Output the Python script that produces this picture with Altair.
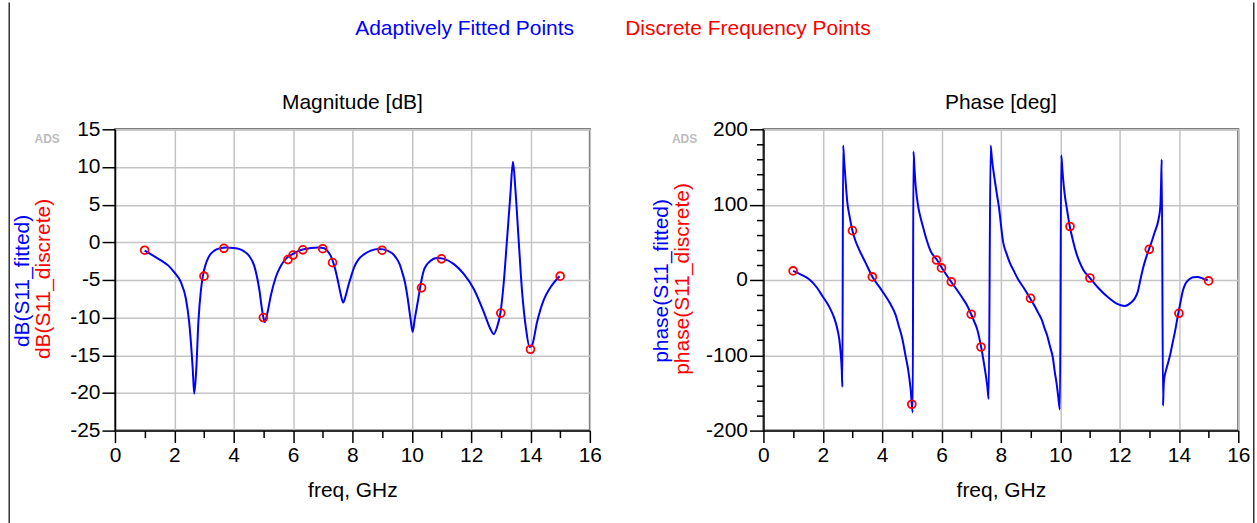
import altair as alt
import pandas as pd

BLUE = "#0000ff"
RED = "#ff0000"
FONT = "Liberation Sans"
FS = 21

# ---------------- discrete frequency points ----------------
disc_freq = [1.0, 3.0, 3.67, 5.0, 5.83, 6.0, 6.33, 7.0, 7.33, 9.0, 10.33, 11.0, 13.0, 14.0, 15.0]
disc_mag = [-1.05, -4.5, -0.8, -10.0, -2.3, -1.7, -1.0, -0.85, -2.7, -1.05, -6.05, -2.2, -9.4, -14.2, -4.5]
disc_phase = [12, 65.5, 4, -165, 26.5, 16, -2.5, -45.5, -89, -24.4, 71, 2.6, 40.7, -44.3, -1.3]

# ---------------- adaptively fitted curve: magnitude ----------------
fit_mag_freq = [1.0, 1.3, 1.55, 1.8, 2.0, 2.22, 2.39, 2.5, 2.62, 2.67, 2.74, 2.81, 2.9, 2.97, 3.05,
                3.15, 3.35, 3.55, 3.75, 4.0, 4.2, 4.35, 4.52, 4.69, 4.86, 4.97, 5.05, 5.14, 5.25,
                5.42, 5.59, 5.81, 6.0, 6.15, 6.4, 6.6, 6.85, 7.05, 7.17, 7.27, 7.38, 7.5, 7.6, 7.69,
                7.78, 7.86, 7.95, 8.06, 8.2, 8.39, 8.62, 8.9, 9.18, 9.35, 9.46, 9.58, 9.68, 9.78,
                9.85, 9.96, 10.03, 10.1, 10.22, 10.3, 10.4, 10.5, 10.58, 10.86, 11.08, 11.42, 11.75,
                12.09, 12.43, 12.65, 12.76, 12.87, 12.99, 13.1, 13.21, 13.32, 13.41, 13.49, 13.6,
                13.71, 13.85, 13.97, 14.05, 14.22, 14.44, 14.67, 14.98]
fit_mag_val = [-1.1, -1.8, -2.4, -3.1, -4.0, -5.3, -7.5, -10.6, -16.8, -20.1, -16.8, -10.6, -6.2, -4.3, -3.0,
               -2.0, -1.1, -0.8, -0.7, -0.75, -0.9, -1.2, -1.8, -3.1, -6.2, -9.3, -10.6, -9.3, -7.1,
               -4.6, -3.1, -2.0, -1.55, -1.2, -0.9, -0.75, -0.7, -0.8, -1.2, -1.8, -3.0, -4.9, -6.8, -8.0,
               -7.0, -5.8, -4.6, -3.3, -2.3, -1.6, -1.1, -0.9, -1.1, -1.5, -2.0, -2.8, -4.0, -5.5,
               -7.1, -10.2, -11.9, -10.2, -7.5, -5.6, -3.8, -3.0, -2.65, -2.1, -2.2, -2.9, -4.2,
               -6.2, -9.3, -11.5, -12.2, -11.3, -9.3, -5.3, 0.4, 6.2, 10.7, 7.1, 0.4,
               -6.2, -11.5, -13.9, -13.7, -10.6, -7.7, -6.0, -4.5]

# ---------------- adaptively fitted curve: phase ----------------
fit_ph_freq = [1.0, 1.3, 1.54, 1.8, 1.98, 2.15, 2.26, 2.4, 2.49, 2.56, 2.6, 2.64, 2.66,
               2.685, 2.72, 2.75, 2.79, 2.83, 2.9, 2.99, 3.1, 3.22, 3.44, 3.67, 4.0, 4.28, 4.45,
               4.56, 4.68, 4.79, 4.88, 4.96, 5.03,
               5.055, 5.09, 5.12, 5.17, 5.23, 5.3, 5.4, 5.5, 5.63, 5.85, 6.02, 6.33, 6.5, 6.69,
               6.85, 7.0, 7.1, 7.2, 7.33, 7.42, 7.48, 7.54, 7.59,
               7.655, 7.7, 7.76, 7.85, 7.93, 8.08, 8.2, 8.3, 8.45, 8.58, 8.78, 8.97, 9.1, 9.25,
               9.38, 9.48, 9.57, 9.65, 9.75, 9.82, 9.88, 9.93, 9.99,
               10.035, 10.07, 10.1, 10.15, 10.21, 10.32, 10.43, 10.54, 10.65, 10.77, 10.99, 11.27,
               11.61, 11.94, 12.17, 12.39, 12.52, 12.62, 12.7, 12.78, 12.88, 12.99, 13.1, 13.18,
               13.31, 13.36, 13.38, 13.4, 13.42,
               13.465, 13.48, 13.5, 13.55, 13.62, 13.7, 13.79, 13.87, 13.96, 14.05, 14.13, 14.22,
               14.35, 14.48, 14.63, 14.8, 14.97]
fit_ph_val = [12, 6.5, 0.9, -10, -21, -31, -39, -52, -65, -80, -96, -120, -142,
              178.6, 158, 142, 120, 102, 85, 67, 52, 40.7, 23, 4.4, -14.6, -32, -46,
              -61, -78, -101, -120, -145, -176,
              170.6, 148, 129, 110, 94, 82, 67, 53, 38.5, 26.5, 15.5, -2.7, -12, -23,
              -33, -45.5, -55, -65, -88, -108, -123, -140, -158,
              178.6, 160, 142, 118, 98, 49.5, 34, 23, 11, 0.9, -11, -23.4, -32, -43,
              -53, -65, -75, -87.5, -103, -123, -138, -154, -172,
              165.7, 148, 133, 114, 98, 71.6, 52, 36, 24, 14, 3, -10,
              -23, -32, -34.5, -30, -24, -14.6, 0, 14, 28, 40.7, 53, 63,
              80, 92, 102.5, 130, 160,
              -167, -145, -132, -122, -112, -100, -83, -68, -48, -30, -14.6, -5,
              0.9, 3.5, 4, 2, -0.4]

legend_labels = ["Adaptively Fitted Points", "Discrete Frequency Points"]
panel_titles = ["Magnitude [dB]", "Phase [deg]"]
mag_ytitles = ["dB(S11_fitted)", "dB(S11_discrete)"]
ph_ytitles = ["phase(S11_fitted)", "phase(S11_discrete)"]
x_ticks = list(range(0, 17))
mag_ticks = list(range(-25, 16, 5))
ph_ticks = list(range(-200, 201, 20))

W, H = 476, 302
GRID = "#c4c4c4"


def x_axis():
    return alt.Axis(
        values=x_ticks, tickCount=100,
        labelExpr="datum.value % 2 === 0 ? '' + datum.value : ''",
        tickSize={"condition": {"test": "datum.value % 2 === 0", "value": 12}, "value": 7},
        gridOpacity={"condition": {"test": "datum.value % 2 === 0", "value": 1}, "value": 0},
        title="freq, GHz", titleFont=FONT, titleFontSize=FS, titleFontWeight="normal",
        titleColor="black", titlePadding=14,
        labelFont=FONT, labelFontSize=FS, labelColor="black", labelPadding=2,
        labelFlush=False, labelOverlap=False, labelBound=False,
        tickColor="black", tickWidth=1.5, domainColor="black", domainWidth=1.5,
        gridColor=GRID, gridWidth=1.5,
    )


def text_layer(label, color, x, y, angle=0, size=FS, weight="normal"):
    df = pd.DataFrame({"t": [label]})
    kw = dict(font=FONT, fontSize=size, fontWeight=weight, color=color,
              baseline="middle", align="center")
    if angle:
        kw["angle"] = angle
    return alt.Chart(df).mark_text(**kw).encode(text="t:N", x=alt.value(x), y=alt.value(y))


def panel(fit_f, fit_v, d_f, d_v, ydomain, yaxis, title, ytitles, ytitle_x, ads_x, extra):
    fit = pd.DataFrame({"freq": fit_f, "val": fit_v})
    disc = pd.DataFrame({"freq": d_f, "val": d_v})
    xs = alt.Scale(domain=[0, 16], nice=False, zero=False)
    ys = alt.Scale(domain=ydomain, nice=False, zero=False)
    line = alt.Chart(fit).mark_line(color=BLUE, strokeWidth=2, interpolate="monotone").encode(
        x=alt.X("freq:Q", scale=xs, axis=x_axis()),
        y=alt.Y("val:Q", scale=ys, axis=yaxis),
    )
    pts = alt.Chart(disc).mark_point(shape="circle", filled=False, color=RED, size=62,
                                     strokeWidth=1.8, opacity=1).encode(
        x="freq:Q", y="val:Q")
    yt1 = text_layer(ytitles[0], BLUE, ytitle_x[0], H / 2 + 1, angle=270)
    yt2 = text_layer(ytitles[1], RED, ytitle_x[1], H / 2 - 1, angle=270)
    ttl = text_layer(title, "black", W / 2, -26)
    ads = text_layer("ADS", "#bdbdbd", ads_x, 10, size=12, weight="bold")
    layers = [line, pts, yt1, yt2, ttl, ads] + extra
    return alt.layer(*layers).properties(width=W, height=H)


mag_axis = alt.Axis(
    values=mag_ticks, tickCount=100, labelExpr="'' + datum.value", title="",
    tickSize=13, labelPadding=2, labelFont=FONT, labelFontSize=FS, labelColor="black",
    tickColor="black", tickWidth=1.5, domainColor="black", domainWidth=1.5,
    gridColor=GRID, gridWidth=1.5, labelOverlap=False, labelFlush=False, labelBound=False,
)
ph_axis = alt.Axis(
    values=ph_ticks, tickCount=100,
    labelExpr="datum.value % 100 === 0 ? '' + datum.value : ''", title="",
    tickSize={"condition": {"test": "datum.value % 100 === 0", "value": 14}, "value": 7},
    gridOpacity={"condition": {"test": "datum.value % 100 === 0", "value": 1}, "value": 0},
    labelPadding=2, labelFont=FONT, labelFontSize=FS, labelColor="black",
    tickColor="black", tickWidth=1.5, domainColor="black", domainWidth=1.5,
    gridColor=GRID, gridWidth=1.5, labelOverlap=False, labelFlush=False, labelBound=False,
)

leg1 = text_layer(legend_labels[0], BLUE, 350.5, -101)
leg2 = text_layer(legend_labels[1], RED, 634.5, -101)
rule_df = pd.DataFrame({"k": [0]})
border_l = alt.Chart(rule_df).mark_rule(color="#333333", strokeWidth=1.5).encode(
    x=alt.value(-106), y=alt.value(-127), y2=alt.value(396))
border_r = alt.Chart(rule_df).mark_rule(color="#333333", strokeWidth=1.5).encode(
    x=alt.value(491.5), y=alt.value(-127), y2=alt.value(396))

left = panel(fit_mag_freq, fit_mag_val, disc_freq, disc_mag, [-25, 15], mag_axis,
             panel_titles[0], mag_ytitles, (-92, -71), -68, [leg1, leg2, border_l])
right = panel(fit_ph_freq, fit_ph_val, disc_freq, disc_phase, [-200, 200], ph_axis,
              panel_titles[1], ph_ytitles, (-102, -81), -79, [border_r])

chart = alt.hconcat(left, right, spacing=174, bounds="flush").properties(
    padding={"left": 7.25, "top": 0, "right": 0.75, "bottom": 0},
    background="white",
).configure_view(stroke="#555555", strokeWidth=2)

chart.save("out.html", embed_options={"renderer": "svg", "actions": False})
